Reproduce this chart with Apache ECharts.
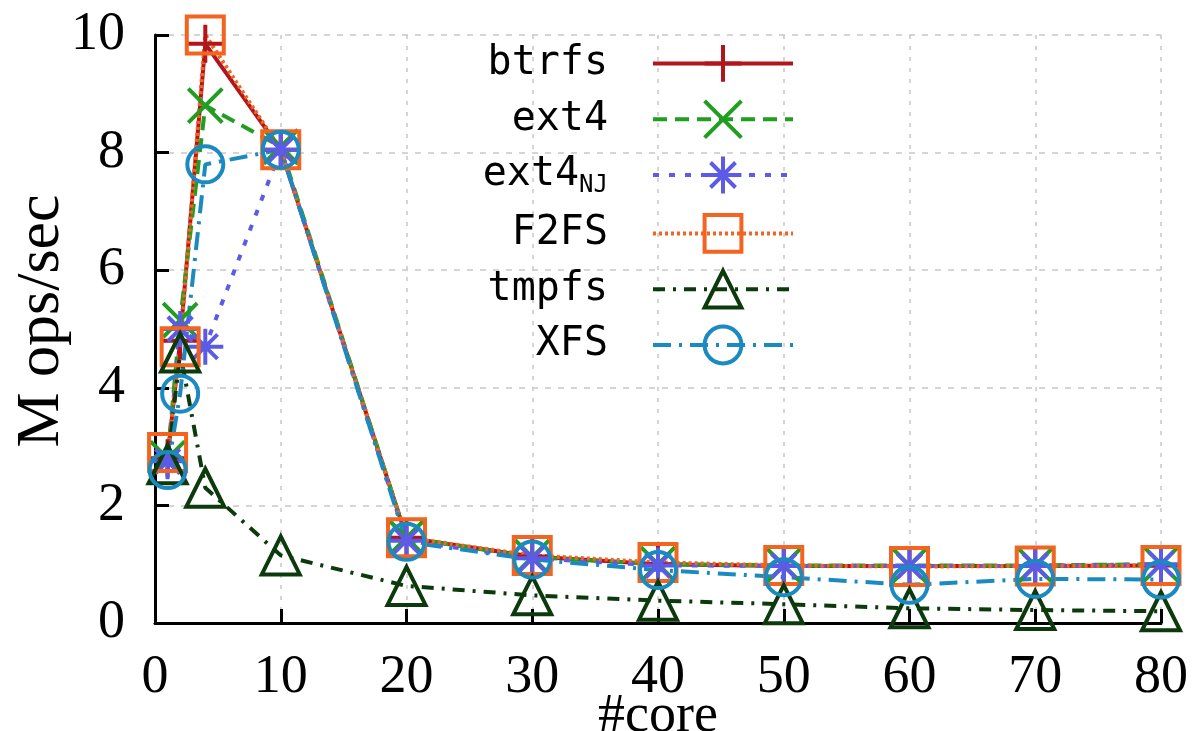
<!DOCTYPE html>
<html>
<head>
<meta charset="utf-8">
<script src="https://cdn.jsdelivr.net/npm/echarts@6/dist/echarts.min.js"></script>
<style>
  html, body { margin: 0; padding: 0; background: #fff; }
  #main { width: 1204px; height: 731px; }
</style>
</head>
<body>
<div id="main"></div>
<script>
// x values (#core)
var cores = [1, 2, 4, 10, 20, 30, 40, 50, 60, 70, 80];

// M ops/sec per file system
var btrfs  = [2.8, 4.8, 9.85, 8.05, 1.45, 1.13, 1.0, 0.97, 0.97, 0.97, 0.98];
var ext4   = [2.8, 5.15, 8.8, 8.1, 1.45, 1.12, 1.0, 0.98, 0.98, 0.98, 1.0];
var ext4NJ = [2.75, 5.0, 4.7, 8.05, 1.4, 1.1, 0.98, 0.97, 0.97, 0.97, 1.0];
var f2fs   = [2.9, 4.7, 10.0, 8.05, 1.45, 1.15, 1.03, 0.98, 0.96, 0.97, 0.98];
var tmpfs  = [2.7, 4.6, 2.3, 1.15, 0.63, 0.47, 0.38, 0.32, 0.25, 0.22, 0.2];
var xfs    = [2.6, 3.9, 7.8, 8.05, 1.38, 1.08, 0.9, 0.78, 0.65, 0.75, 0.74];

var serif = 'Liberation Serif';
var mono = 'DejaVu Sans Mono';

function pairs(ys) {
    return cores.map(function (c, i) { return [c, ys[i]]; });
}

function mkSeries(name, ys, color, dash, symbol, size) {
    return {
        name: name,
        type: 'line',
        data: pairs(ys),
        color: color,
        symbol: symbol,
        symbolSize: size,
        lineStyle: { color: color, width: 4, type: dash },
        itemStyle: { color: 'rgba(0,0,0,0)', borderColor: color, borderWidth: 4 },
        emphasis: { disabled: true }
    };
}

var myChart = echarts.init(document.getElementById('main'));

var option = {
    animation: false,
    backgroundColor: '#fff',
    grid: { left: 155, right: 43, top: 35, bottom: 108, outerBoundsMode: 'none', containLabel: false },
    xAxis: {
        type: 'value',
        min: 0, max: 80, interval: 10,
        name: '#core',
        nameLocation: 'middle',
        nameGap: 67,
        nameMoveOverlap: false,
        nameTextStyle: { fontFamily: serif, fontSize: 54, color: '#000' },
        axisLine: { lineStyle: { color: '#000', width: 3 } },
        axisTick: { inside: true, length: 14, lineStyle: { color: '#000', width: 3 } },
        axisLabel: { fontFamily: serif, fontSize: 54, color: '#000', margin: 28 },
        splitLine: { show: true, lineStyle: { color: '#c8c8c8', width: 1.5, type: [4, 7] } }
    },
    yAxis: {
        type: 'value',
        min: 0, max: 10, interval: 2,
        name: 'M ops/sec',
        nameLocation: 'middle',
        nameGap: 82,
        nameMoveOverlap: false,
        nameTextStyle: { fontFamily: serif, fontSize: 62, color: '#000', padding: [0, 0, 0, 16] },
        axisLine: { show: true, lineStyle: { color: '#000', width: 3 } },
        axisTick: { show: true, inside: true, length: 14, lineStyle: { color: '#000', width: 3 } },
        axisLabel: { fontFamily: serif, fontSize: 54, color: '#000', margin: 30 },
        splitLine: { show: true, lineStyle: { color: '#c8c8c8', width: 1.5, type: [6, 7] } }
    },
    legend: {
        orient: 'vertical',
        align: 'right',
        right: 404,
        top: 38,
        itemWidth: 140,
        itemHeight: 46,
        itemGap: 15,
        itemStyle: { borderWidth: 4 },
        lineStyle: { width: 4 },
        selectedMode: false,
        formatter: function (name) {
            if (name === 'ext4NJ') return '{n|ext4}{s|NJ}';
            return '{p|' + name + '}';
        },
        textStyle: {
            fontFamily: mono,
            fontSize: 40,
            color: '#000',
            rich: {
                p: { fontFamily: mono, fontSize: 40, color: '#000', padding: [0, 40, 0, 0] },
                n: { fontFamily: mono, fontSize: 40, color: '#000' },
                s: { fontFamily: mono, fontSize: 24, color: '#000', padding: [22, 40, 0, 0] }
            }
        },
        data: ['btrfs', 'ext4', 'ext4NJ', 'F2FS', 'tmpfs', 'XFS']
    },
    series: [
        mkSeries('btrfs', btrfs, '#b2161c', 'solid', 'path://M5,0L5,10M0,5L10,5', 38),
        mkSeries('ext4', ext4, '#1f9e1f', [14, 8], 'path://M0,0L10,10M10,0L0,10', 34),
        mkSeries('ext4NJ', ext4NJ, '#5b5be6', [6, 10], 'path://M5,0L5,10M0,5L10,5M1.6,1.6L8.4,8.4M8.4,1.6L1.6,8.4', 36),
        mkSeries('F2FS', f2fs, '#f26420', [3, 3], 'rect', 37),
        mkSeries('tmpfs', tmpfs, '#0c3a0c', [12, 8, 3, 8], 'triangle', 38),
        mkSeries('XFS', xfs, '#1a8ac0', [18, 8, 3, 8], 'circle', 36)
    ]
};

myChart.setOption(option);
</script>
</body>
</html>
